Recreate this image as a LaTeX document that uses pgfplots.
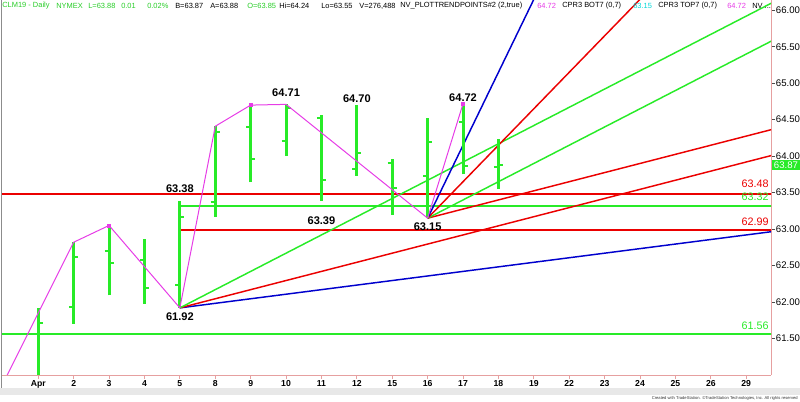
\documentclass[border=0pt]{standalone}
\usepackage{pgfplots}
\pgfplotsset{compat=1.18}
\usepackage{pgfplotstable}
\usepackage{fontspec}
\setmainfont{Liberation Sans}

\definecolor{barg}{RGB}{40,235,40}
\definecolor{hdrg}{RGB}{40,205,40}
\definecolor{lvred}{RGB}{235,0,0}
\definecolor{fanblue}{RGB}{0,0,205}
\definecolor{pivot}{RGB}{230,60,230}
\definecolor{axisc}{RGB}{230,160,160}
\definecolor{cyanv}{RGB}{0,215,215}
\definecolor{scroll}{RGB}{232,232,232}

% open / close ticks of the OHLC bars
\pgfdeclareplotmark{tickL}{\pgfpathmoveto{\pgfqpoint{-3.4pt}{0pt}}\pgfpathlineto{\pgfqpoint{0pt}{0pt}}\pgfusepathqstroke}
\pgfdeclareplotmark{tickR}{\pgfpathmoveto{\pgfqpoint{0pt}{0pt}}\pgfpathlineto{\pgfqpoint{3.4pt}{0pt}}\pgfusepathqstroke}

% daily bars, x = trading day index (0 = Apr 1)
\pgfplotstableread{
i  O      H      L      C
0  60.90  61.92  60.85  61.71
1  61.93  62.82  61.70  62.62
2  62.70  63.05  62.09  62.53
3  62.57  62.86  61.98  62.19
4  62.24  63.38  61.92  63.16
5  63.37  64.41  63.17  64.33
6  64.40  64.70  63.64  63.96
7  64.21  64.71  64.00  64.66
8  64.53  64.56  63.39  63.68
9  63.82  64.70  63.73  64.04
10 63.91  63.96  63.20  63.57
11 63.73  64.52  63.15  64.20
12 64.47  64.72  63.75  63.87
13 63.85  64.24  63.55  63.88
}\ohlc

\newcommand\hdr{\fontsize{5.6}{6}\selectfont}
\newcommand\lbl{\fontsize{8.3}{9}\selectfont\bfseries}
\newcommand\lvl{\fontsize{8.1}{9}\selectfont}

\begin{document}
\begin{tikzpicture}
\path[use as bounding box] (0,0) rectangle (600pt,301.5pt);

\begin{axis}[
    at={(1.5pt,20.25pt)}, anchor=south west,
    scale only axis, width=576.75pt, height=281.25pt,
    xmin=-1.025, xmax=20.7, ymin=61.0, ymax=66.141,
    clip mode=individual,
    axis x line*=bottom, axis y line*=right,
    axis line style={draw=axisc, line width=0.7pt, -},
    tick align=outside, major tick length=3pt,
    x tick style={draw=axisc, line width=0.6pt},
    y tick style={draw=black!70, line width=0.5pt},
    xtick={0,...,20},
    xticklabels={Apr,2,3,4,5,8,9,10,11,12,15,16,17,18,19,22,23,24,25,26,29},
    xticklabel style={font=\fontsize{6.5}{7}\selectfont\bfseries, inner sep=1pt},
    ytick={61.5,62,...,66},
    yticklabel style={font=\fontsize{7.2}{8}\selectfont, inner sep=0.5pt,
        /pgf/number format/.cd, fixed, fixed zerofill, precision=2},
    /pgf/number format/assume math mode=true,
]
% horizontal levels
\addplot[lvred, line width=1.5pt] coordinates {(-1.1,63.48) (20.8,63.48)};
\addplot[barg, line width=1.5pt] coordinates {(4,63.32) (20.8,63.32)};
\addplot[lvred, line width=1.5pt] coordinates {(4,62.99) (20.8,62.99)};
\addplot[barg, line width=1.5pt] coordinates {(-1.1,61.56) (20.8,61.56)};

% fan from the 61.92 low
\addplot[fanblue, line width=1.1pt] coordinates {(4,61.92) (21,62.9825)};
\addplot[lvred, line width=1.1pt] coordinates {(4,61.92) (21,64.045)};
\addplot[barg, line width=1.1pt] coordinates {(4,61.92) (21,66.17)};
% fan from the 63.15 low
\addplot[lvred, line width=1.1pt] coordinates {(11,63.15) (21,64.40)};
\addplot[barg, line width=1.1pt] coordinates {(11,63.15) (21,65.65)};
\addplot[lvred, line width=1.1pt] coordinates {(11,63.15) (21,68.15)};
\addplot[fanblue, line width=1.1pt] coordinates {(11,63.15) (21,73.15)};

% OHLC bars
\addplot[draw=none, no markers,
    error bars/.cd, y dir=plus, y explicit, error mark=none,
    error bar style={draw=barg, line width=2.25pt}]
    table[x=i, y=L, y error expr=\thisrow{H}-\thisrow{L}] {\ohlc};
\addplot[only marks, mark=tickL, mark options={draw=barg, line width=1.5pt},
    restrict y to domain=61:67] table[x=i, y=O] {\ohlc};
\addplot[only marks, mark=tickR, mark options={draw=barg, line width=1.5pt},
    restrict y to domain=61:67] table[x=i, y=C] {\ohlc};

% pivot zigzag
\addplot[pivot, line width=0.75pt] coordinates {
    (-1,60.88) (1,62.82) (2,63.05) (4,61.92) (5,64.41)
    (6,64.70) (7,64.71) (11,63.15) (12,64.72)};
\addplot[only marks, mark=square*, mark size=1.2pt, pivot] coordinates {
    (2,63.05) (6,64.70) (12,64.72)};

% pivot labels
\node[font=\lbl] at (axis cs:7,64.866) {64.71};
\node[font=\lbl] at (axis cs:9,64.783) {64.70};
\node[font=\lbl] at (axis cs:12,64.796) {64.72};
\node[font=\lbl] at (axis cs:4,63.549) {63.38};
\node[font=\lbl] at (axis cs:8,63.114) {63.39};
\node[font=\lbl] at (axis cs:11,63.027) {63.15};
\node[font=\lbl] at (axis cs:4,61.793) {61.92};

% level labels
\node[font=\lvl, text=lvred, anchor=east, inner sep=0pt] at (axis cs:20.64,63.618) {63.48};
\node[font=\lvl, text=barg, anchor=east, inner sep=0pt] at (axis cs:20.64,63.439) {63.32};
\node[font=\lvl, text=lvred, anchor=east, inner sep=0pt] at (axis cs:20.64,63.10) {62.99};
\node[font=\lvl, text=barg, anchor=east, inner sep=0pt] at (axis cs:20.64,61.67) {61.56};

% last price box
\node[fill=barg, text=white, font=\fontsize{7.2}{8}\selectfont, anchor=west,
    inner sep=0pt, minimum width=21pt, minimum height=7.5pt] at (axis cs:20.72,63.88) {63.87};
\end{axis}

\begin{scope}[x=0.75pt, y=-0.75pt, shift={(0pt,301.5pt)}]
% window border and scroll bar
\draw[black!45, line width=0.75pt] (1,0) -- (1,388);
\fill[scroll] (0,388.5) rectangle (800,395.5);
\node[font=\fontsize{3.1}{3.5}\selectfont, anchor=east, inner sep=0pt, text=black!80] at (798,398.3)
    {Created with TradeStation. \textcopyright TradeStation Technologies, Inc. All rights reserved};
% header line
\begin{scope}[every node/.style={font=\hdr, anchor=west, inner sep=0pt}]
\node[text=hdrg] at (2,6) {CLM19 - Daily};
\node[text=hdrg] at (56,6) {NYMEX};
\node[text=hdrg] at (88,6) {L=63.88};
\node[text=hdrg] at (121,6) {0.01};
\node[text=hdrg] at (147,6) {0.02\%};
\node at (175,6) {B=63.87};
\node at (210,6) {A=63.88};
\node[text=hdrg] at (247,6) {O=63.85};
\node at (279,6) {Hi=64.24};
\node at (321,6) {Lo=63.55};
\node at (359,6) {V=276,488};
\node at (400,6) {NV\_PLOTTRENDPOINTS\#2 (2,true)};
\node[text=pivot] at (537,6) {64.72};
\node at (562,6) {CPR3 BOT7 (0,7)};
\node[text=cyanv] at (633,6) {63.15};
\node at (658,6) {CPR3 TOP7 (0,7)};
\node[text=pivot] at (727,6) {64.72};
\node at (752,6) {NV ...};
\end{scope}
\end{scope}
\end{tikzpicture}
\end{document}
